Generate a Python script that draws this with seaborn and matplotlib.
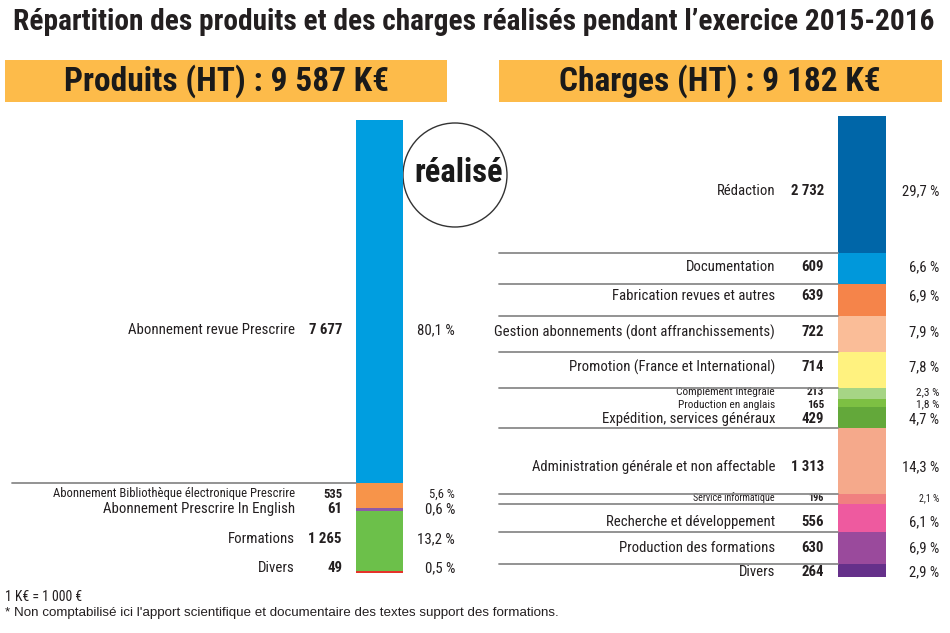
import matplotlib
matplotlib.use("Agg")
import matplotlib.pyplot as plt
import seaborn as sns
from matplotlib.patches import Rectangle, Circle

# données (K€)
title = "Répartition des produits et des charges réalisés pendant l’exercice 2015-2016"
header_prod = "Produits (HT) : 9 587 K€"
header_char = "Charges (HT) : 9 182 K€"
stamp = "réalisé"
note1 = "1 K€ = 1 000 €"
note2 = "* Non comptabilisé ici l'apport scientifique et documentaire des textes support des formations."

prod_labels = ["Abonnement revue Prescrire",
               "Abonnement Bibliothèque électronique Prescrire",
               "Abonnement Prescrire In English",
               "Formations",
               "Divers"]
prod_values = [7677, 535, 61, 1265, 49]
prod_pcts = [80.1, 5.6, 0.6, 13.2, 0.5]

char_labels = ["Rédaction",
               "Documentation",
               "Fabrication revues et autres",
               "Gestion abonnements (dont affranchissements)",
               "Promotion (France et International)",
               "Complément Intégrale",
               "Production en anglais",
               "Expédition, services généraux",
               "Administration générale et non affectable",
               "Service informatique",
               "Recherche et développement",
               "Production des formations",
               "Divers"]
char_values = [2732, 609, 639, 722, 714, 213, 165, 429, 1313, 196, 556, 630, 264]
char_pcts = [29.7, 6.6, 6.9, 7.9, 7.8, 2.3, 1.8, 4.7, 14.3, 2.1, 6.1, 6.9, 2.9]

# style / mise en page (pixels)
prod_colors = ["#009ee0", "#f7944a", "#8e5ba8", "#6cc04a", "#e5332a"]
char_colors = ["#0066a8", "#0098db", "#f5844a", "#fabd98", "#fff27f", "#a6d585",
               "#7dc043", "#63a83a", "#f5a98b", "#f08080", "#ee5a9f", "#9a4a9c", "#65308a"]
prod_label_y = [330, 494, 509, 539, 568]
prod_fs = [10.7, 9.1, 10.7, 10.7, 10.7]
char_label_y = [191, 267, 296, 332, 367, 392, 404.5, 419, 467, 498, 522, 548, 572]
char_fs = [10.6, 10.6, 10.6, 10.6, 10.6, 8.2, 8.2, 10.6, 10.6, 7.2, 10.6, 10.6, 10.6]
prod_lines = [0]
char_lines = [0, 1, 2, 3, 4, 7, 8, 9, 10, 11]

sns.set_style("white")
plt.rcParams['font.family'] = ['Roboto Condensed', 'DejaVu Sans']

W, H = 950, 633
fig = plt.figure(figsize=(9.5, 6.33), dpi=100)
ov = fig.add_axes([0, 0, 1, 1])
ov.set_xlim(0, W)
ov.set_ylim(H, 0)
ov.axis('off')


def fmt_val(v):
    return f"{v:,}".replace(",", " ")


def fmt_pct(p):
    return f"{p:.1f}".replace(".", ",") + " %"


def stacked(x0, x1, top, bottom, values, colors, lines, line_x0):
    ax = fig.add_axes([x0 / W, 1 - bottom / H, (x1 - x0) / W, (bottom - top) / H])
    total = sum(values)
    cum = 0
    for v, c in zip(values, colors):
        ax.bar(0, v, bottom=cum, width=1, color=c, linewidth=0)
        cum += v
    ax.set_xlim(-0.5, 0.5)
    ax.set_ylim(total, 0)
    ax.axis('off')
    cum = 0
    bounds = []
    for v in values:
        cum += v
        bounds.append(cum)
    for i in lines:
        ax.axhline(bounds[i], xmin=(line_x0 - x0) / (x1 - x0), xmax=0,
                   color="#8a8a8a", lw=1.3, clip_on=False)
    return ax


# titre et bandeaux
ov.text(474, 22, title, ha='center', va='center', fontsize=21.2, fontweight='bold', color='#231f20')
ov.add_patch(Rectangle((5, 60), 442, 42, color="#fdbb4a", lw=0))
ov.add_patch(Rectangle((499, 60), 443, 42, color="#fdbb4a", lw=0))
ov.text(227, 81, header_prod, ha='center', va='center', fontsize=24, fontweight='bold', color='#1a1a1a')
ov.text(720, 81, header_char, ha='center', va='center', fontsize=24, fontweight='bold', color='#1a1a1a')

# produits
stacked(356, 403, 120, 573, prod_values, prod_colors, prod_lines, 12)
for lab, v, p, y, fs in zip(prod_labels, prod_values, prod_pcts, prod_label_y, prod_fs):
    ov.text(295, y, lab, ha='right', va='center', fontsize=fs, color='#231f20')
    ov.text(342, y, fmt_val(v), ha='right', va='center', fontsize=fs, fontweight='bold', color='#231f20')
    ov.text(455, y, fmt_pct(p), ha='right', va='center', fontsize=fs, color='#231f20')

# charges
stacked(838, 886, 116, 577, char_values, char_colors, char_lines, 499)
clip = Rectangle((498, 0), 460, H, transform=ov.transData)
for lab, v, p, y, fs in zip(char_labels, char_values, char_pcts, char_label_y, char_fs):
    t = ov.text(775, y, lab, ha='right', va='center', fontsize=fs, color='#231f20')
    t.set_clip_path(clip)
    ov.text(824, y, fmt_val(v), ha='right', va='center', fontsize=fs, fontweight='bold', color='#231f20')
    ov.text(939, y, fmt_pct(p), ha='right', va='center', fontsize=fs, color='#231f20')

# tampon
ov.add_patch(Circle((455, 175), 52, fill=False, ec='#333333', lw=1))
ov.text(459, 173, stamp, ha='center', va='center', fontsize=23.5, fontweight='bold', color='#1a1a1a')

# notes
ov.text(5, 597, note1, ha='left', va='center', fontsize=10, color='#231f20')
ov.text(5, 613, note2, ha='left', va='center', fontsize=9.6, color='#231f20',
        family=['Liberation Sans', 'DejaVu Sans'])

fig.savefig('out.png', dpi=100)
